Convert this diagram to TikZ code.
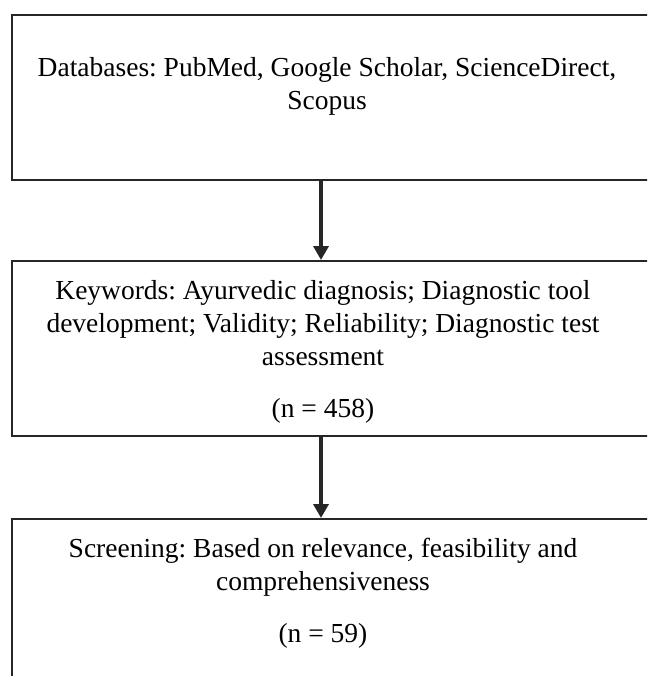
\documentclass[tikz,border=0pt]{standalone}
\usepackage{fontspec}
\setmainfont{Liberation Serif}
\frenchspacing
\usetikzlibrary{positioning}
\usetikzlibrary{arrows.meta}

\begin{document}
\begin{tikzpicture}[x=1pt, y=-1pt,
    caja/.style={draw=black!85, line width=2pt, minimum width=649pt, anchor=north west, inner sep=0pt},
    texto/.style={align=center, font=\fontsize{27.5}{33}\selectfont, inner sep=0pt},
    flecha/.style={line width=3.5pt, draw=black!85, -{Triangle[length=14pt, width=15pt]}}]

        % Marco de la figura
        \useasboundingbox (0,0) rectangle (647,676);
        \clip (0,0) rectangle (647,676);

        % Cajas del diagrama
        \node[caja, minimum height=165pt] (bases) at (11,14) {};
        \node[caja, minimum height=175pt] (claves) at (11,260) {};
        \node[caja, minimum height=200pt] (cribado) at (11,518) {};

        % Textos
        \node[texto] (tbases) at (327,86)
            {Databases: PubMed, Google Scholar, ScienceDirect,\\Scopus};
        \node[texto] (tclaves) at (323,352)
            {Keywords: Ayurvedic diagnosis; Diagnostic tool\\development; Validity; Reliability; Diagnostic test\\assessment\\[19pt](n = 458)};
        \node[texto] (tcribado) at (323,593)
            {Screening: Based on relevance, feasibility and\\comprehensiveness\\[19pt](n = 59)};

        % Flechas
        \coordinate (eje) at (321,0);
        \draw[flecha] (bases.south -| eje) -- (claves.north -| eje);
        \draw[flecha] (claves.south -| eje) -- (cribado.north -| eje);

\end{tikzpicture}
\end{document}
